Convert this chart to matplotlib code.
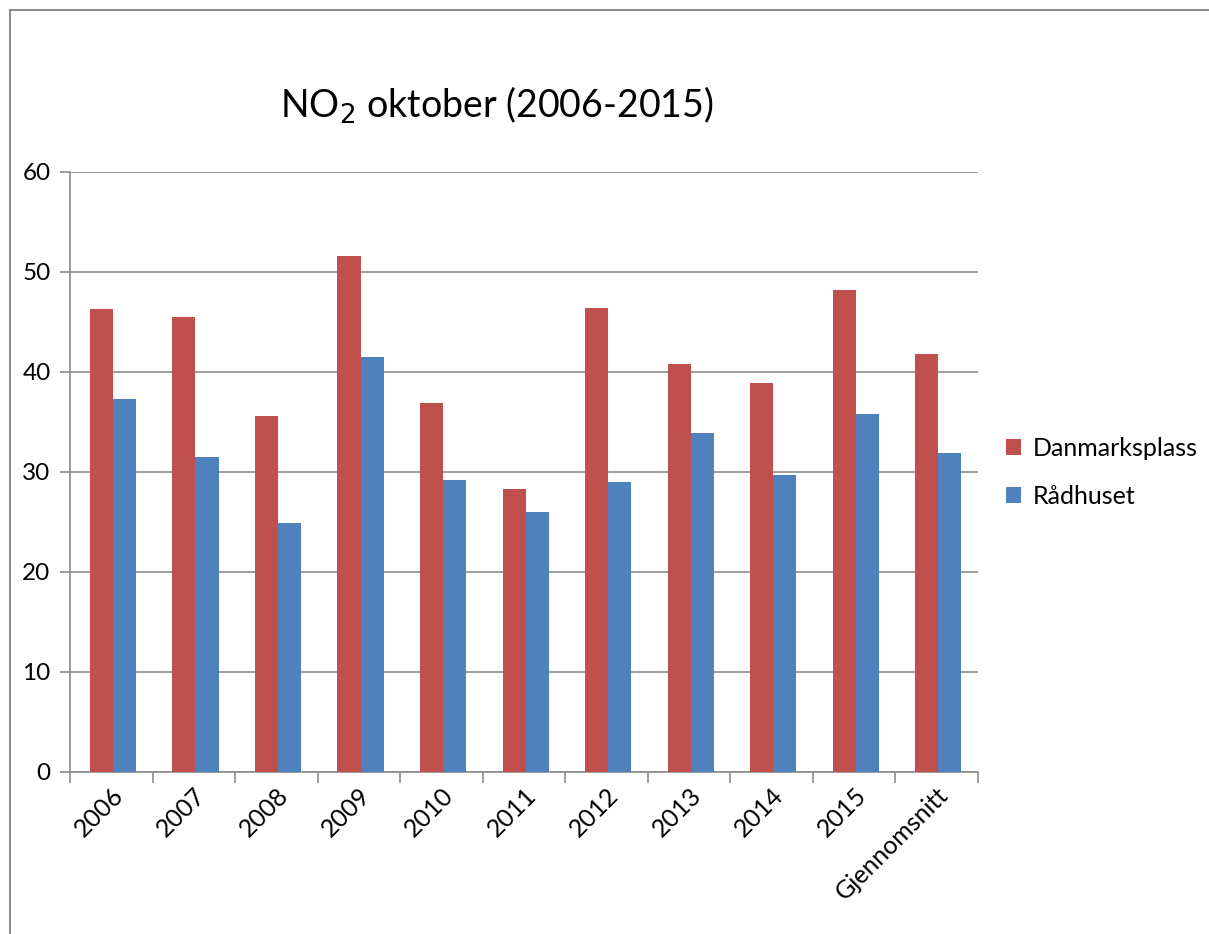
import matplotlib.pyplot as plt
import numpy as np
from matplotlib.patches import Rectangle

# ----------------------------
# DATA
# ----------------------------
categories = ["2006", "2007", "2008", "2009", "2010", "2011", "2012",
              "2013", "2014", "2015", "Gjennomsnitt"]
danmarksplass = [46.3, 45.5, 35.6, 51.6, 36.9, 28.3, 46.4, 40.8, 38.9, 48.2, 41.8]
radhuset = [37.3, 31.5, 24.9, 41.5, 29.2, 26.0, 29.0, 33.9, 29.7, 35.8, 31.9]
y_ticks = [0, 10, 20, 30, 40, 50, 60]

RED = '#c0504d'
BLUE = '#4f81bd'
GRID = '#8c8c8c'

plt.rcParams['font.family'] = ['Lato', 'DejaVu Sans']

fig = plt.figure(figsize=(12.09, 9.34), dpi=100)
ax = fig.add_axes([70 / 1209, 1 - 772 / 934, (978 - 70) / 1209, 600 / 934])

x = np.arange(len(categories))
w = 0.28
ax.bar(x - w / 2 + 0.02, danmarksplass, w, color=RED, label='Danmarksplass', zorder=3)
ax.bar(x + w / 2 + 0.02, radhuset, w, color=BLUE, label='Rådhuset', zorder=3)

ax.set_xlim(-0.5, len(categories) - 0.5)
ax.set_ylim(0, 60)
ax.set_yticks(y_ticks)
ax.set_yticklabels([str(v) for v in y_ticks], fontsize=17.5)
ax.yaxis.grid(True, color=GRID, lw=1.2, zorder=0)

# category boundary ticks on x axis, labels at centres
ax.set_xticks(np.arange(-0.5, len(categories), 1.0))
ax.set_xticklabels([])
ax.set_xticks(x, minor=True)
ax.set_xticklabels(categories, minor=True, rotation=45, ha='right',
                   rotation_mode='anchor', fontsize=18)
ax.tick_params(axis='x', which='minor', length=0, pad=8)
ax.tick_params(axis='x', which='major', length=8, color=GRID, width=1.2)
ax.tick_params(axis='y', length=7, color=GRID, width=1.2, pad=7)

for s in ['top', 'right']:
    ax.spines[s].set_visible(False)
for s in ['left', 'bottom']:
    ax.spines[s].set_color(GRID)
    ax.spines[s].set_linewidth(1.2)

fig.text(497 / 1209, 1 - 105 / 934, "NO$_2$ oktober (2006-2015)",
         ha='center', va='center', fontsize=27)

ax.legend(loc='center left', bbox_to_anchor=(1.02, 0.5), frameon=False,
          fontsize=18, handlelength=0.6, handleheight=0.6,
          labelspacing=1.0, handletextpad=0.45, borderaxespad=0)

# outer frame of the embedded chart
fig.patches.append(Rectangle((10 / 1209, -0.01), 1.1, 1 - 10 / 934 + 0.01,
                             transform=fig.transFigure, fill=False,
                             edgecolor='#8c8c8c', lw=1.5))

fig.savefig("out.png", dpi=100)
